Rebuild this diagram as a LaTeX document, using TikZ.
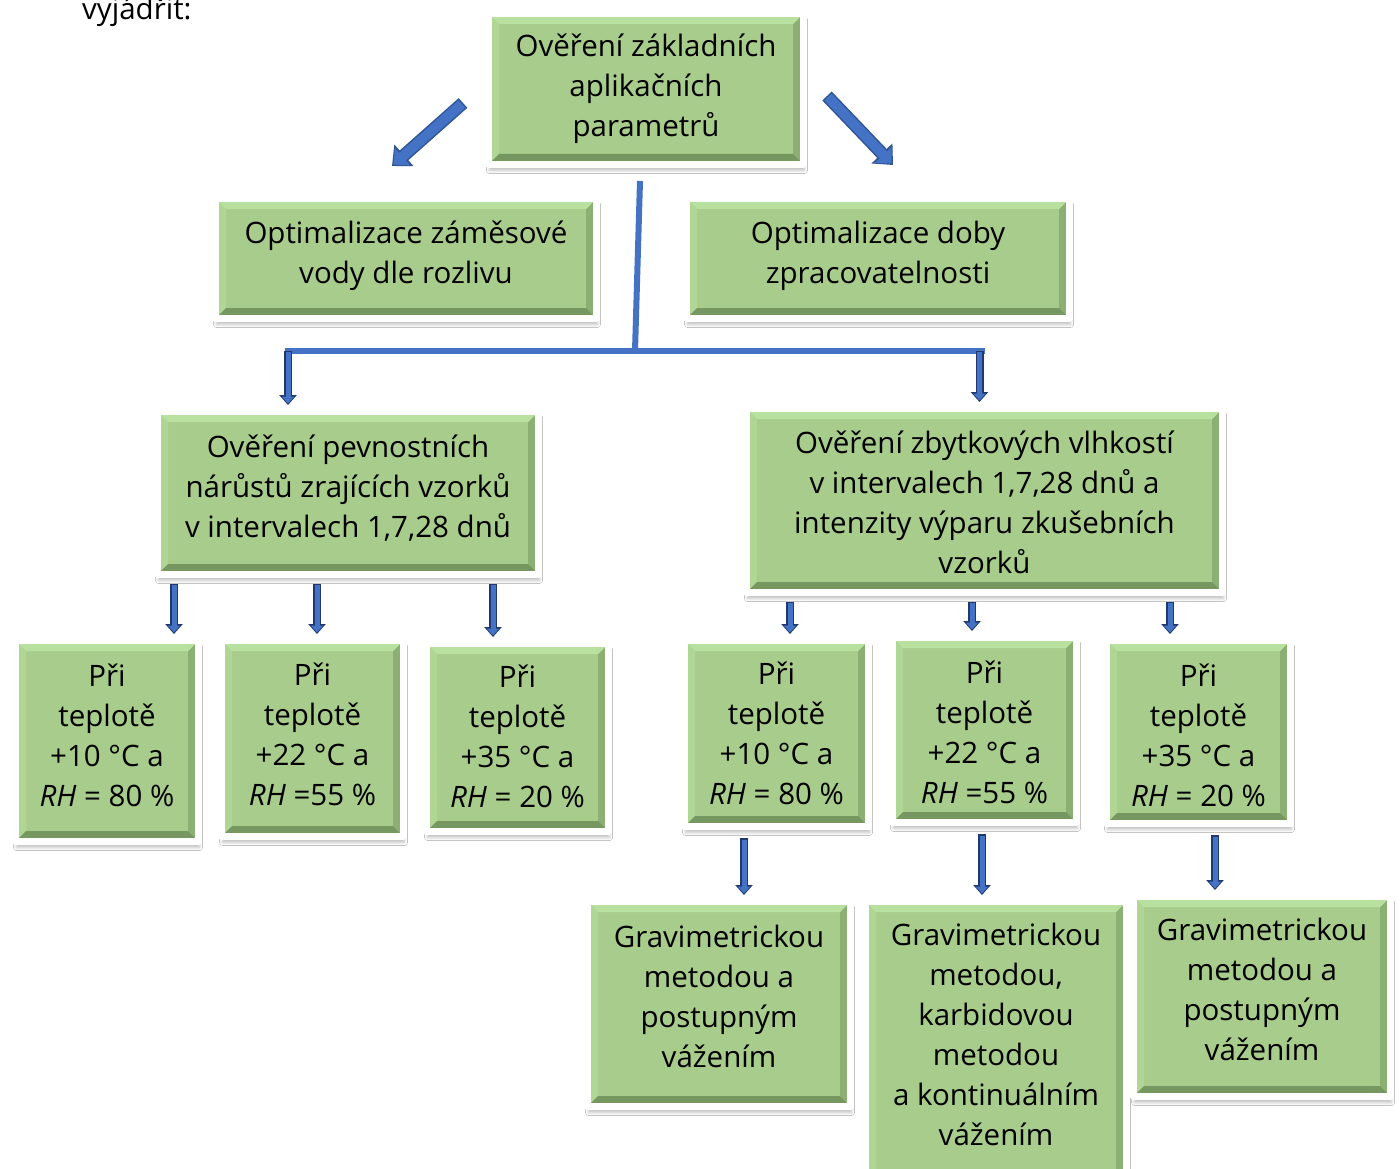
\documentclass[tikz,border=0pt]{standalone}
\usepackage{fontspec}
\setmainfont{Open Sans}
\usetikzlibrary{arrows.meta,shadows.blur,calc}
\definecolor{gfill}{RGB}{168,204,139}
\definecolor{gtop}{RGB}{184,224,158}
\definecolor{gleft}{RGB}{176,214,148}
\definecolor{gright}{RGB}{140,176,116}
\definecolor{gbot}{RGB}{118,152,96}
\definecolor{treeblue}{RGB}{68,114,196}
\definecolor{arrdark}{RGB}{32,56,110}
\definecolor{diagdark}{RGB}{47,85,151}
\tikzset{
  txt/.style={inner sep=0pt, align=center, text=black, font=\fontsize{29.5}{40}\selectfont},
  gbox/.style={draw=white, line width=7pt, line join=round, fill=gfill,
    inner sep=0pt,
    blur shadow={shadow xshift=1pt, shadow yshift=-6pt, shadow blur radius=3pt, shadow opacity=25},
    path picture={
      \coordinate (SW) at ([shift={(3.5pt,3.5pt)}]path picture bounding box.south west);
      \coordinate (NE) at ([shift={(-3.5pt,-3.5pt)}]path picture bounding box.north east);
      \coordinate (NW) at (SW |- NE);
      \coordinate (SE) at (NE |- SW);
      \coordinate (iSW) at ([shift={(7pt,7pt)}]SW);
      \coordinate (iNE) at ([shift={(-7pt,-7pt)}]NE);
      \coordinate (iNW) at ([shift={(7pt,-7pt)}]NW);
      \coordinate (iSE) at ([shift={(-7pt,7pt)}]SE);
      \fill[gleft] (NW) -- (SW) -- (iSW) -- (iNW) -- cycle;
      \fill[gright] (NE) -- (SE) -- (iSE) -- (iNE) -- cycle;
      \fill[gtop] (NW) -- (NE) -- (iNE) -- (iNW) -- cycle;
      \fill[gbot] (SW) -- (SE) -- (iSE) -- (iSW) -- cycle;
    }},
  tree/.style={draw=treeblue, line width=6pt},
  darrO/.style={draw=arrdark, line width=8pt, -{Triangle[width=17pt,length=10pt]}, fill=arrdark},
  darrI/.style={draw=treeblue, line width=5pt, -{Triangle[width=12pt,length=7pt]}, fill=treeblue},
  bigO/.style={draw=diagdark, line width=13pt, -{Triangle[width=28pt,length=16pt]}, fill=diagdark},
  bigI/.style={draw=treeblue, line width=10pt, -{Triangle[width=22pt,length=12pt]}, fill=treeblue,
    shorten >=2pt, shorten <=1.5pt},
}
% start, end, start shorten (outer), start shorten (inner)
\newcommand\downarr[4]{%
  \draw[darrO, shorten <=#3, shorten >=3pt] #1 -- #2;
  \draw[darrI, shorten <=#4, shorten >=4.5pt] #1 -- #2;}
% name, center, width, height, text shift (up), text
\newcommand\gnode[6]{%
  \node[gbox, minimum width=#3, minimum height=#4,
    label={[txt, yshift=#5]center:{#6}}] (#1) at #2 {};}
\begin{document}
\begin{tikzpicture}[x=1pt,y=-1pt]
\useasboundingbox (0,0) rectangle (1400,1169);
\clip (0,0) rectangle (1400,1169);
\fill[white] (0,0) rectangle (1400,1169);

\node[txt, anchor=base west] (vyj) at (82,20) {vyjádřit:};

\gnode{top}{(646,89)}{315pt}{151pt}{0pt}{Ověření základních\\aplikačních\\parametrů}
\gnode{m1}{(406,258.5)}{381pt}{120pt}{3pt}{Optimalizace záměsové\\vody dle rozlivu}
\gnode{m2}{(878,258.5)}{383pt}{120pt}{3pt}{Optimalizace doby\\zpracovatelnosti}
\gnode{l3a}{(348,493)}{381pt}{163pt}{4.5pt}{Ověření pevnostních\\nárůstů zrajících vzorků\\v intervalech 1,7,28 dnů}
\gnode{l3b}{(984.5,500.5)}{476pt}{184pt}{-1.5pt}{Ověření zbytkových vlhkostí\\v intervalech 1,7,28 dnů a\\intenzity výparu zkušebních\\vzorků}

\gnode{p1}{(107,741)}{183pt}{201pt}{6pt}{Při\\teplotě\\+10 °C a\\\textit{RH} = 80 \%}
\gnode{p2}{(312.5,738.5)}{182pt}{196pt}{4pt}{Při\\teplotě\\+22 °C a\\\textit{RH} =55 \%}
\gnode{p3}{(517.5,737.5)}{182pt}{188pt}{1pt}{Při\\teplotě\\+35 °C a\\\textit{RH} = 20 \%}
\gnode{p4}{(776.5,733.5)}{184pt}{186pt}{0pt}{Při\\teplotě\\+10 °C a\\\textit{RH} = 80 \%}
\gnode{p5}{(984.5,730)}{184pt}{185pt}{-2pt}{Při\\teplotě\\+22 °C a\\\textit{RH} =55 \%}
\gnode{p6}{(1198.5,732)}{184pt}{183pt}{-3pt}{Při\\teplotě\\+35 °C a\\\textit{RH} = 20 \%}

\gnode{g1}{(719,1004)}{263pt}{205pt}{8pt}{Gravimetrickou\\metodou a\\postupným\\vážením}
\gnode{g2}{(996,1042.5)}{261pt}{282pt}{8pt}{Gravimetrickou\\metodou,\\karbidovou\\metodou\\a kontinuálním\\vážením}
\gnode{g3}{(1262,996.5)}{257pt}{200pt}{7pt}{Gravimetrickou\\metodou a\\postupným\\vážením}

% diagonal block arrows
\coordinate (dl1) at (463,103);
\coordinate (dl2) at (392,166);
\coordinate (dr1) at (827,96);
\coordinate (dr2) at (893,165);
\draw[bigO] (dl1) -- (dl2);
\draw[bigI] (dl1) -- (dl2);
\draw[bigO] (dr1) -- (dr2);
\draw[bigI] (dr1) -- (dr2);

% tree connector
\coordinate (hub) at (635,351);
\coordinate (hl) at (288,351);
\coordinate (hr) at (982,351);
\draw[tree] ([shift={(-6pt,-13pt)}]top.south) -- (hub);
\draw[tree, line cap=rect] (hl) -- (hr);
\downarr{(hl)}{(hl |- l3a.north)}{0pt}{1pt}
\downarr{(979.5,351)}{(979.5,0 |- l3b.north)}{0pt}{1pt}

% small arrows
\downarr{(174,0 |- l3a.south)}{(174,0 |- p1.north)}{5.5pt}{7pt}
\downarr{(317,0 |- l3a.south)}{(317,0 |- p2.north)}{5.5pt}{7pt}
\downarr{(493,0 |- l3a.south)}{(493,0 |- p3.north)}{5.5pt}{7pt}
\downarr{(790,0 |- l3b.south)}{(790,0 |- p4.north)}{5.5pt}{7pt}
\downarr{(972,0 |- l3b.south)}{(972,0 |- p5.north)}{5.5pt}{7pt}
\downarr{(1170,0 |- l3b.south)}{(1170,0 |- p6.north)}{5.5pt}{7pt}
\downarr{(744,0 |- p4.south)}{(744,0 |- g1.north)}{8pt}{9.5pt}
\downarr{(982,0 |- p5.south)}{(982,0 |- g2.north)}{8pt}{9.5pt}
\downarr{(1215,0 |- p6.south)}{(1215,0 |- g3.north)}{8pt}{9.5pt}
\end{tikzpicture}
\end{document}
